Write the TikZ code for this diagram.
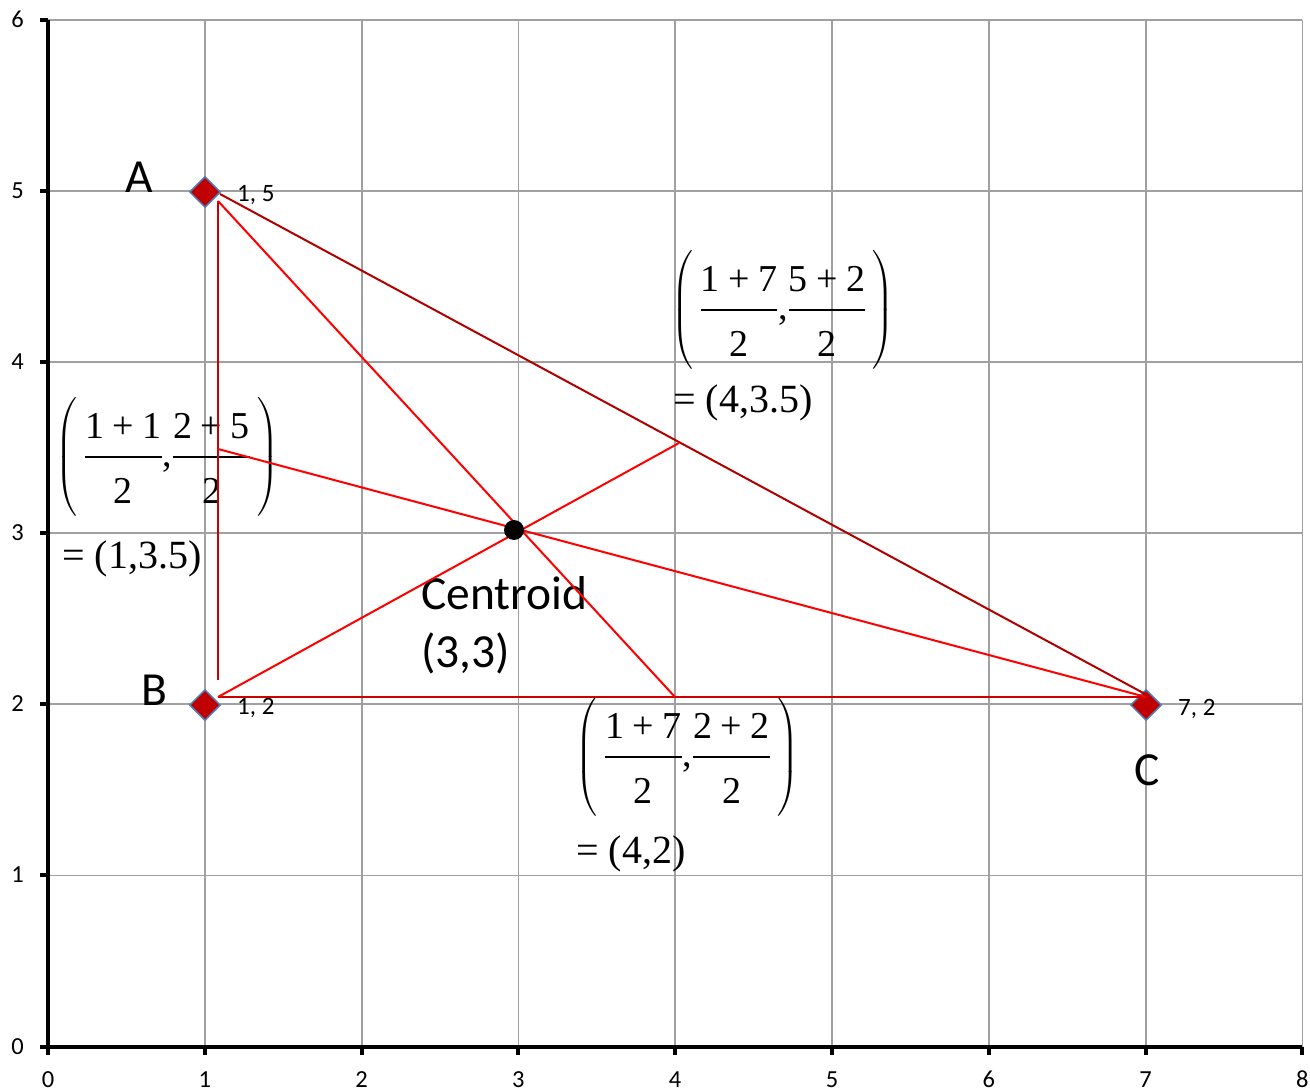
\RequirePackage{fix-cm}
\documentclass[tikz,border=0pt]{standalone}
\usepackage{exscale}
\usepackage[no-math]{fontspec}
\setmainfont{Carlito}
\newfontfamily\tnr{Liberation Serif}
\usetikzlibrary{shapes.geometric}
\definecolor{gridgray}{HTML}{A0A0A0}
\definecolor{mkfill}{HTML}{C00000}
\definecolor{mkedge}{HTML}{4F81BD}
\definecolor{sidedark}{HTML}{B00000}
\definecolor{sidemid}{HTML}{CC0000}
\definecolor{medred}{HTML}{FF0000}
\newcommand\tnx[1]{\mbox{\tnr #1}}
\newcommand\myfrac[3]{{\rule[-12pt]{0pt}{12pt}\tnx{#1}\mathbin{\tnx{+}}\tnx{#2}\above 1.8pt\rule{0pt}{40pt}\tnx{#3}}}
\newcommand\mptformula[4]{$\displaystyle\left(\rule[-46pt]{0pt}{112pt}\,\myfrac{#1}{#2}{2}\tnx{,}\myfrac{#3}{#4}{2}\,\right)$}
\tikzset{
  gridline/.style={draw=gridgray, line width=1.8pt},
  axisline/.style={draw=black, line width=4pt},
  ticklab/.style={font=\fontsize{24.5}{28}\selectfont, inner sep=0pt},
  ptlab/.style={font=\fontsize{25}{29}\selectfont, inner sep=0pt, anchor=base west},
  biglab/.style={font=\fontsize{47.5}{56}\selectfont, inner sep=0pt},
  formula/.style={font=\fontsize{38}{44}\selectfont, inner sep=0pt},
  result/.style={font=\fontsize{40}{46}\selectfont, inner sep=0pt, anchor=base west},
  marker/.style={diamond, draw=mkedge, fill=mkfill, line width=1.5pt, minimum width=31pt, minimum height=31pt, inner sep=0pt},
  sideAC/.style={draw=sidedark, line width=2pt},
  sideAB/.style={draw=sidemid, line width=2pt},
  median/.style={draw=medred, line width=2pt},
  cdot/.style={circle, fill=black, minimum size=20pt, inner sep=0pt}
}
\begin{document}
\begin{tikzpicture}[x=1pt, y=-1pt]
\useasboundingbox (0,0) rectangle (1310,1091);
% grid
\foreach \i in {1,...,8} \draw[gridline] ({48+156.8*\i},20) -- ({48+156.8*\i},1046.5);
\foreach \j in {1,...,6} \draw[gridline] (48,{1046.5-171.1*\j}) -- (1302.4,{1046.5-171.1*\j});
% axes
\draw[axisline] (48,20) -- (48,1055);
\draw[axisline] (40,1046.5) -- (1302.4,1046.5);
\foreach \j in {1,...,6} \draw[axisline] (40,{1046.5-171.1*\j}) -- (48,{1046.5-171.1*\j});
\foreach \i in {1,...,8} \draw[axisline] ({48+156.8*\i},1046.5) -- ({48+156.8*\i},1055);
% tick labels
\foreach \j in {0,...,6} \node[ticklab, anchor=base east] (ylab\j) at (24,{1046.5-171.1*\j+7.5}) {\j};
\foreach \i in {0,...,8} \node[ticklab, anchor=base] (xlab\i) at ({48+156.8*\i},1087) {\i};
% texts
\node[biglab, anchor=base] (labA) at (139,193) {A};
\node[biglab, anchor=base] (labB) at (154,705) {B};
\node[biglab, anchor=base] (labC) at (1147,785) {C};
\node[ptlab] (coA) at (237,202) {1, 5};
\node[ptlab] (coB) at (237,714) {1, 2};
\node[ptlab] (coC) at (1178,715) {7, 2};
\node[biglab, anchor=base west] (centlab) at (421,609) {Centroid};
\node[biglab, anchor=base west] (centval) at (421,667) {(3,3)};
\node[formula] (fAB) at (167.5,457) {\mptformula{1}{1}{2}{5}};
\node[result] (rAB) at (62,568) {\tnr = (1,3.5)};
\node[formula] (fAC) at (783,310) {\mptformula{1}{7}{5}{2}};
\node[result] (rAC) at (673,413) {\tnr = (4,3.5)};
\node[formula] (fBC) at (687.5,757) {\mptformula{1}{7}{2}{2}};
\node[result] (rBC) at (576,863) {\tnr = (4,2)};
% markers
\node[marker] (A) at (205,192) {};
\node[marker] (B) at (205,705) {};
\node[marker] (C) at (1146,705) {};
% line end points
\coordinate (Atop) at (218,201);
\coordinate (Aac) at (220,194);
\coordinate (Bend) at (218,680);
\coordinate (Bp) at (218,697);
\coordinate (Cp) at (1146,697);
\coordinate (Cac) at (1147,695);
\coordinate (Mbc) at (675,697);
\coordinate (Mac) at (679,443);
\coordinate (Mab) at (218,449);
% sides
\draw[sideAC] (Aac) -- (Cac);
\draw[sideAB] (Atop) -- (Bend);
\draw[sideAB] (Bp) -- (Cp);
% medians
\draw[median] (Atop) -- (Mbc);
\draw[median] (Bp) -- (Mac);
\draw[median] (Cp) -- (Mab);
% centroid
\node[cdot] (G) at (514,530) {};
\end{tikzpicture}
\end{document}
